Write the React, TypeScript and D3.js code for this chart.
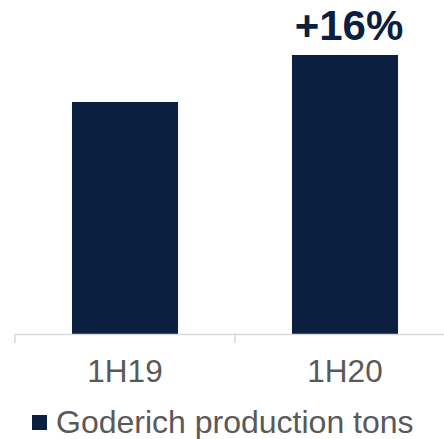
import React from "react";
import * as d3 from "d3";

const categories = ["1H19", "1H20"];
const values = [2.32, 2.79];
const seriesName = "Goderich production tons";
const changeLabel = "+16%";

const W = 444;
const H = 439;
const BAR = "#0b1f40";
const TEXT = "#595959";
const AXIS = "#d9d9d9";

export default function App() {
  const x = d3.scaleBand<string>().domain(categories).range([15, 455]).padding(0);
  const y = d3.scaleLinear().domain([0, d3.max(values) as number]).range([334, 55]);
  const step = x.step();
  const bw = step * 0.482;
  const font = "'Liberation Sans', Arial, sans-serif";
  const last = categories[categories.length - 1];

  return (
    <svg
      width={W}
      height={H}
      style={{ position: "absolute", left: 0, top: 0, background: "#fff" }}
    >
      {categories.map((c, i) => (
        <rect
          key={c}
          x={(x(c) as number) + (step - bw) / 2}
          y={y(values[i])}
          width={bw}
          height={y(0) - y(values[i])}
          fill={BAR}
        />
      ))}
      <line x1={15} x2={455} y1={334.5} y2={334.5} stroke={AXIS} strokeWidth={1.5} />
      {[...categories.map((c) => x(c) as number), 455].map((t, i) => (
        <line key={i} x1={t} x2={t} y1={334} y2={343} stroke={AXIS} strokeWidth={1.5} />
      ))}
      {categories.map((c) => (
        <text
          key={c}
          x={(x(c) as number) + step / 2}
          y={382}
          textAnchor="middle"
          fontFamily={font}
          fontSize={31.5}
          fill={TEXT}
        >
          {c}
        </text>
      ))}
      <text
        x={(x(last) as number) + step / 2 + 4}
        y={40}
        textAnchor="middle"
        fontFamily={font}
        fontSize={42}
        fontWeight="bold"
        fill={BAR}
      >
        {changeLabel}
      </text>
      <rect x={32} y={415} width={15} height={15} fill={BAR} />
      <text x={56} y={433} fontFamily={font} fontSize={32} fill={TEXT}>
        {seriesName}
      </text>
    </svg>
  );
}
